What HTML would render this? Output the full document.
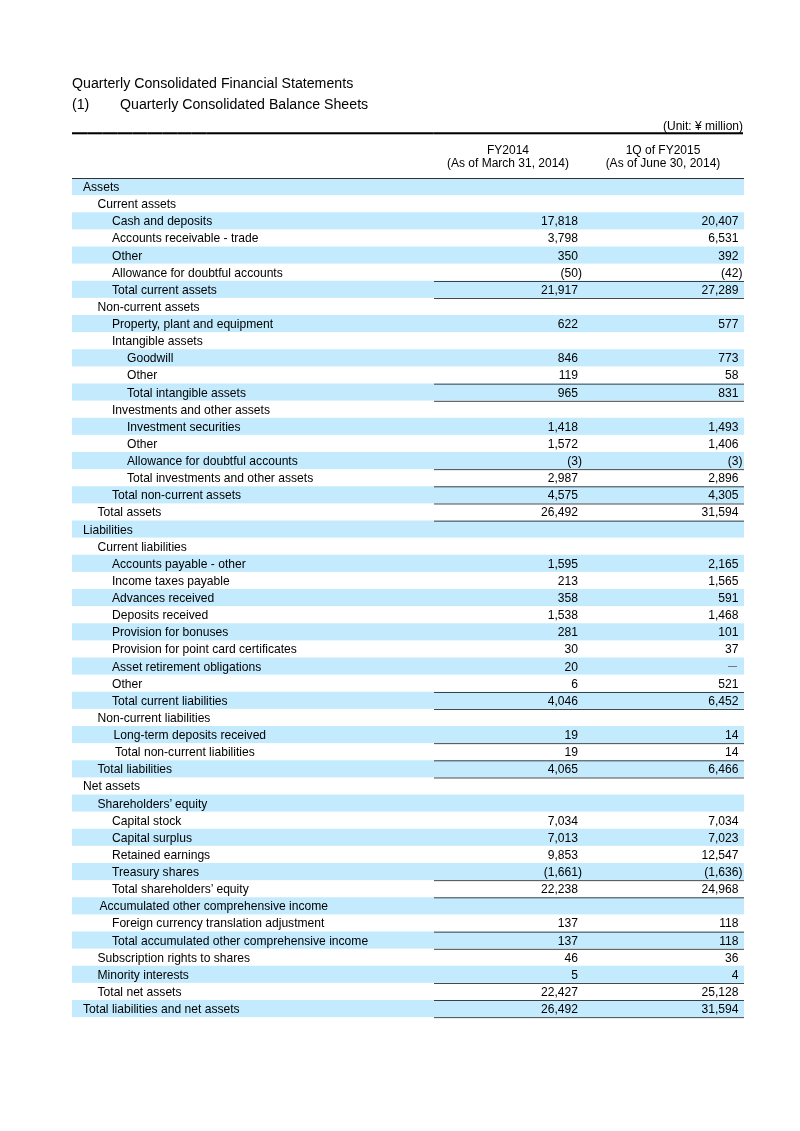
<!DOCTYPE html>
<html><head><meta charset="utf-8"><style>
html,body{margin:0;padding:0;background:#fff;}
body{width:800px;height:1131px;position:relative;overflow:hidden;will-change:transform;font-family:"Liberation Sans",sans-serif;color:#000;}
.t1{position:absolute;left:72px;top:74px;font-size:14.18px;line-height:18px;white-space:nowrap;}
.t2{position:absolute;left:72px;top:95px;font-size:14.18px;line-height:18px;white-space:nowrap;}
.t2 span{position:absolute;left:48px;top:0;}
.unit{position:absolute;right:57px;top:118px;font-size:12px;line-height:16px;white-space:nowrap;}
.thick{position:absolute;left:72px;width:671px;height:1px;background:#000;}
.tk{position:absolute;top:132px;width:1px;height:3px;background:#fff;opacity:.15;}
.hdr{position:absolute;top:144px;font-size:12px;line-height:13px;text-align:center;white-space:nowrap;}
.h1{left:433px;width:150px;}
.h2{left:588px;width:150px;}
.hline{position:absolute;left:72px;width:672px;top:178px;height:1px;background:#333;}
.r{position:absolute;left:72px;width:672px;height:17.125px;font-size:12.1px;line-height:17.125px;white-space:nowrap;}
.bg{position:absolute;left:72px;width:672px;background:#c3ebfd;}
.l{position:absolute;top:1px;}
.c1{position:absolute;right:162px;top:1px;text-align:right;}
.c2{position:absolute;right:1.5px;top:1px;text-align:right;}
.pad{display:inline-block;width:4px;}
.dash{display:inline-block;width:9px;height:1px;background:#777;vertical-align:middle;position:relative;top:-1px;margin-right:2px;}
.hl{position:absolute;left:434px;width:310px;height:1px;background:#000;}
</style></head><body>
<div class="t1">Quarterly Consolidated Financial Statements</div>
<div class="t2">(1)<span>Quarterly Consolidated Balance Sheets</span></div>
<div class="unit">(Unit: &yen; million)</div>
<div class="thick" style="top:132px;opacity:.75"></div><div class="thick" style="top:133px"></div><div class="thick" style="top:134px;opacity:.3"></div><div class="tk" style="left:87px"></div><div class="tk" style="left:102px"></div><div class="tk" style="left:117px"></div><div class="tk" style="left:132px"></div><div class="tk" style="left:147px"></div><div class="tk" style="left:162px"></div><div class="tk" style="left:177px"></div><div class="tk" style="left:191px"></div><div class="tk" style="left:206px"></div><div class="tk" style="left:433px"></div>
<div class="hdr h1">FY2014<br>(As of March 31, 2014)</div>
<div class="hdr h2">1Q of FY2015<br>(As of June 30, 2014)</div>
<div class="bg" style="top:178px;height:17px"></div><div class="bg" style="top:195px;height:1px;opacity:0.125"></div><div class="bg" style="top:213px;height:16px"></div><div class="bg" style="top:212px;height:1px;opacity:0.750"></div><div class="bg" style="top:229px;height:1px;opacity:0.375"></div><div class="bg" style="top:247px;height:16px"></div><div class="bg" style="top:246px;height:1px;opacity:0.500"></div><div class="bg" style="top:263px;height:1px;opacity:0.625"></div><div class="bg" style="top:281px;height:16px"></div><div class="bg" style="top:280px;height:1px;opacity:0.250"></div><div class="bg" style="top:297px;height:1px;opacity:0.875"></div><div class="bg" style="top:315px;height:17px"></div><div class="bg" style="top:332px;height:1px;opacity:0.125"></div><div class="bg" style="top:350px;height:16px"></div><div class="bg" style="top:349px;height:1px;opacity:0.750"></div><div class="bg" style="top:366px;height:1px;opacity:0.375"></div><div class="bg" style="top:384px;height:16px"></div><div class="bg" style="top:383px;height:1px;opacity:0.500"></div><div class="bg" style="top:400px;height:1px;opacity:0.625"></div><div class="bg" style="top:418px;height:16px"></div><div class="bg" style="top:417px;height:1px;opacity:0.250"></div><div class="bg" style="top:434px;height:1px;opacity:0.875"></div><div class="bg" style="top:452px;height:17px"></div><div class="bg" style="top:469px;height:1px;opacity:0.125"></div><div class="bg" style="top:487px;height:16px"></div><div class="bg" style="top:486px;height:1px;opacity:0.750"></div><div class="bg" style="top:503px;height:1px;opacity:0.375"></div><div class="bg" style="top:521px;height:16px"></div><div class="bg" style="top:520px;height:1px;opacity:0.500"></div><div class="bg" style="top:537px;height:1px;opacity:0.625"></div><div class="bg" style="top:555px;height:16px"></div><div class="bg" style="top:554px;height:1px;opacity:0.250"></div><div class="bg" style="top:571px;height:1px;opacity:0.875"></div><div class="bg" style="top:589px;height:17px"></div><div class="bg" style="top:606px;height:1px;opacity:0.125"></div><div class="bg" style="top:624px;height:16px"></div><div class="bg" style="top:623px;height:1px;opacity:0.750"></div><div class="bg" style="top:640px;height:1px;opacity:0.375"></div><div class="bg" style="top:658px;height:16px"></div><div class="bg" style="top:657px;height:1px;opacity:0.500"></div><div class="bg" style="top:674px;height:1px;opacity:0.625"></div><div class="bg" style="top:692px;height:16px"></div><div class="bg" style="top:691px;height:1px;opacity:0.250"></div><div class="bg" style="top:708px;height:1px;opacity:0.875"></div><div class="bg" style="top:726px;height:17px"></div><div class="bg" style="top:743px;height:1px;opacity:0.125"></div><div class="bg" style="top:761px;height:16px"></div><div class="bg" style="top:760px;height:1px;opacity:0.750"></div><div class="bg" style="top:777px;height:1px;opacity:0.375"></div><div class="bg" style="top:795px;height:16px"></div><div class="bg" style="top:794px;height:1px;opacity:0.500"></div><div class="bg" style="top:811px;height:1px;opacity:0.625"></div><div class="bg" style="top:829px;height:16px"></div><div class="bg" style="top:828px;height:1px;opacity:0.250"></div><div class="bg" style="top:845px;height:1px;opacity:0.875"></div><div class="bg" style="top:863px;height:17px"></div><div class="bg" style="top:880px;height:1px;opacity:0.125"></div><div class="bg" style="top:898px;height:16px"></div><div class="bg" style="top:897px;height:1px;opacity:0.750"></div><div class="bg" style="top:914px;height:1px;opacity:0.375"></div><div class="bg" style="top:932px;height:16px"></div><div class="bg" style="top:931px;height:1px;opacity:0.500"></div><div class="bg" style="top:948px;height:1px;opacity:0.625"></div><div class="bg" style="top:966px;height:16px"></div><div class="bg" style="top:965px;height:1px;opacity:0.250"></div><div class="bg" style="top:982px;height:1px;opacity:0.875"></div><div class="bg" style="top:1000px;height:17px"></div><div class="bg" style="top:1017px;height:1px;opacity:0.125"></div><div class="r" style="top:178.000px"><div class="l" style="left:11.0px">Assets</div><div class="c1"></div><div class="c2"></div></div><div class="r" style="top:195.125px"><div class="l" style="left:25.5px">Current assets</div><div class="c1"></div><div class="c2"></div></div><div class="r" style="top:212.250px"><div class="l" style="left:40.0px">Cash and deposits</div><div class="c1">17,818<span class="pad"></span></div><div class="c2">20,407<span class="pad"></span></div></div><div class="r" style="top:229.375px"><div class="l" style="left:40.0px">Accounts receivable - trade</div><div class="c1">3,798<span class="pad"></span></div><div class="c2">6,531<span class="pad"></span></div></div><div class="r" style="top:246.500px"><div class="l" style="left:40.0px">Other</div><div class="c1">350<span class="pad"></span></div><div class="c2">392<span class="pad"></span></div></div><div class="r" style="top:263.625px"><div class="l" style="left:40.0px">Allowance for doubtful accounts</div><div class="c1">(50)</div><div class="c2">(42)</div></div><div class="r" style="top:280.750px"><div class="l" style="left:40.0px">Total current assets</div><div class="c1">21,917<span class="pad"></span></div><div class="c2">27,289<span class="pad"></span></div></div><div class="r" style="top:297.875px"><div class="l" style="left:25.5px">Non-current assets</div><div class="c1"></div><div class="c2"></div></div><div class="r" style="top:315.000px"><div class="l" style="left:40.0px">Property, plant and equipment</div><div class="c1">622<span class="pad"></span></div><div class="c2">577<span class="pad"></span></div></div><div class="r" style="top:332.125px"><div class="l" style="left:40.0px">Intangible assets</div><div class="c1"></div><div class="c2"></div></div><div class="r" style="top:349.250px"><div class="l" style="left:55.0px">Goodwill</div><div class="c1">846<span class="pad"></span></div><div class="c2">773<span class="pad"></span></div></div><div class="r" style="top:366.375px"><div class="l" style="left:55.0px">Other</div><div class="c1">119<span class="pad"></span></div><div class="c2">58<span class="pad"></span></div></div><div class="r" style="top:383.500px"><div class="l" style="left:55.0px">Total intangible assets</div><div class="c1">965<span class="pad"></span></div><div class="c2">831<span class="pad"></span></div></div><div class="r" style="top:400.625px"><div class="l" style="left:40.0px">Investments and other assets</div><div class="c1"></div><div class="c2"></div></div><div class="r" style="top:417.750px"><div class="l" style="left:55.0px">Investment securities</div><div class="c1">1,418<span class="pad"></span></div><div class="c2">1,493<span class="pad"></span></div></div><div class="r" style="top:434.875px"><div class="l" style="left:55.0px">Other</div><div class="c1">1,572<span class="pad"></span></div><div class="c2">1,406<span class="pad"></span></div></div><div class="r" style="top:452.000px"><div class="l" style="left:55.0px">Allowance for doubtful accounts</div><div class="c1">(3)</div><div class="c2">(3)</div></div><div class="r" style="top:469.125px"><div class="l" style="left:55.0px">Total investments and other assets</div><div class="c1">2,987<span class="pad"></span></div><div class="c2">2,896<span class="pad"></span></div></div><div class="r" style="top:486.250px"><div class="l" style="left:40.0px">Total non-current assets</div><div class="c1">4,575<span class="pad"></span></div><div class="c2">4,305<span class="pad"></span></div></div><div class="r" style="top:503.375px"><div class="l" style="left:25.5px">Total assets</div><div class="c1">26,492<span class="pad"></span></div><div class="c2">31,594<span class="pad"></span></div></div><div class="r" style="top:520.500px"><div class="l" style="left:11.0px">Liabilities</div><div class="c1"></div><div class="c2"></div></div><div class="r" style="top:537.625px"><div class="l" style="left:25.5px">Current liabilities</div><div class="c1"></div><div class="c2"></div></div><div class="r" style="top:554.750px"><div class="l" style="left:40.0px">Accounts payable - other</div><div class="c1">1,595<span class="pad"></span></div><div class="c2">2,165<span class="pad"></span></div></div><div class="r" style="top:571.875px"><div class="l" style="left:40.0px">Income taxes payable</div><div class="c1">213<span class="pad"></span></div><div class="c2">1,565<span class="pad"></span></div></div><div class="r" style="top:589.000px"><div class="l" style="left:40.0px">Advances received</div><div class="c1">358<span class="pad"></span></div><div class="c2">591<span class="pad"></span></div></div><div class="r" style="top:606.125px"><div class="l" style="left:40.0px">Deposits received</div><div class="c1">1,538<span class="pad"></span></div><div class="c2">1,468<span class="pad"></span></div></div><div class="r" style="top:623.250px"><div class="l" style="left:40.0px">Provision for bonuses</div><div class="c1">281<span class="pad"></span></div><div class="c2">101<span class="pad"></span></div></div><div class="r" style="top:640.375px"><div class="l" style="left:40.0px">Provision for point card certificates</div><div class="c1">30<span class="pad"></span></div><div class="c2">37<span class="pad"></span></div></div><div class="r" style="top:657.500px"><div class="l" style="left:40.0px">Asset retirement obligations</div><div class="c1">20<span class="pad"></span></div><div class="c2"><span class="dash"></span><span class="pad"></span></div></div><div class="r" style="top:674.625px"><div class="l" style="left:40.0px">Other</div><div class="c1">6<span class="pad"></span></div><div class="c2">521<span class="pad"></span></div></div><div class="r" style="top:691.750px"><div class="l" style="left:40.0px">Total current liabilities</div><div class="c1">4,046<span class="pad"></span></div><div class="c2">6,452<span class="pad"></span></div></div><div class="r" style="top:708.875px"><div class="l" style="left:25.5px">Non-current liabilities</div><div class="c1"></div><div class="c2"></div></div><div class="r" style="top:726.000px"><div class="l" style="left:41.5px">Long-term deposits received</div><div class="c1">19<span class="pad"></span></div><div class="c2">14<span class="pad"></span></div></div><div class="r" style="top:743.125px"><div class="l" style="left:43.0px">Total non-current liabilities</div><div class="c1">19<span class="pad"></span></div><div class="c2">14<span class="pad"></span></div></div><div class="r" style="top:760.250px"><div class="l" style="left:25.5px">Total liabilities</div><div class="c1">4,065<span class="pad"></span></div><div class="c2">6,466<span class="pad"></span></div></div><div class="r" style="top:777.375px"><div class="l" style="left:11.0px">Net assets</div><div class="c1"></div><div class="c2"></div></div><div class="r" style="top:794.500px"><div class="l" style="left:25.5px">Shareholders’ equity</div><div class="c1"></div><div class="c2"></div></div><div class="r" style="top:811.625px"><div class="l" style="left:40.0px">Capital stock</div><div class="c1">7,034<span class="pad"></span></div><div class="c2">7,034<span class="pad"></span></div></div><div class="r" style="top:828.750px"><div class="l" style="left:40.0px">Capital surplus</div><div class="c1">7,013<span class="pad"></span></div><div class="c2">7,023<span class="pad"></span></div></div><div class="r" style="top:845.875px"><div class="l" style="left:40.0px">Retained earnings</div><div class="c1">9,853<span class="pad"></span></div><div class="c2">12,547<span class="pad"></span></div></div><div class="r" style="top:863.000px"><div class="l" style="left:40.0px">Treasury shares</div><div class="c1">(1,661)</div><div class="c2">(1,636)</div></div><div class="r" style="top:880.125px"><div class="l" style="left:40.0px">Total shareholders’ equity</div><div class="c1">22,238<span class="pad"></span></div><div class="c2">24,968<span class="pad"></span></div></div><div class="r" style="top:897.250px"><div class="l" style="left:27.5px">Accumulated other comprehensive income</div><div class="c1"></div><div class="c2"></div></div><div class="r" style="top:914.375px"><div class="l" style="left:40.0px">Foreign currency translation adjustment</div><div class="c1">137<span class="pad"></span></div><div class="c2">118<span class="pad"></span></div></div><div class="r" style="top:931.500px"><div class="l" style="left:40.0px">Total accumulated other comprehensive income</div><div class="c1">137<span class="pad"></span></div><div class="c2">118<span class="pad"></span></div></div><div class="r" style="top:948.625px"><div class="l" style="left:25.5px">Subscription rights to shares</div><div class="c1">46<span class="pad"></span></div><div class="c2">36<span class="pad"></span></div></div><div class="r" style="top:965.750px"><div class="l" style="left:25.5px">Minority interests</div><div class="c1">5<span class="pad"></span></div><div class="c2">4<span class="pad"></span></div></div><div class="r" style="top:982.875px"><div class="l" style="left:25.5px">Total net assets</div><div class="c1">22,427<span class="pad"></span></div><div class="c2">25,128<span class="pad"></span></div></div><div class="r" style="top:1000.000px"><div class="l" style="left:11.0px">Total liabilities and net assets</div><div class="c1">26,492<span class="pad"></span></div><div class="c2">31,594<span class="pad"></span></div></div><div class="hl" style="top:281px;opacity:0.720"></div><div class="hl" style="top:298px;opacity:0.720"></div><div class="hl" style="top:383px;opacity:0.250"></div><div class="hl" style="top:384px;opacity:0.470"></div><div class="hl" style="top:400px;opacity:0.125"></div><div class="hl" style="top:401px;opacity:0.595"></div><div class="hl" style="top:469px;opacity:0.625"></div><div class="hl" style="top:470px;opacity:0.095"></div><div class="hl" style="top:486px;opacity:0.500"></div><div class="hl" style="top:487px;opacity:0.220"></div><div class="hl" style="top:503px;opacity:0.375"></div><div class="hl" style="top:504px;opacity:0.345"></div><div class="hl" style="top:520px;opacity:0.250"></div><div class="hl" style="top:521px;opacity:0.470"></div><div class="hl" style="top:692px;opacity:0.720"></div><div class="hl" style="top:709px;opacity:0.720"></div><div class="hl" style="top:743px;opacity:0.625"></div><div class="hl" style="top:744px;opacity:0.095"></div><div class="hl" style="top:760px;opacity:0.500"></div><div class="hl" style="top:761px;opacity:0.220"></div><div class="hl" style="top:777px;opacity:0.375"></div><div class="hl" style="top:778px;opacity:0.345"></div><div class="hl" style="top:880px;opacity:0.625"></div><div class="hl" style="top:881px;opacity:0.095"></div><div class="hl" style="top:897px;opacity:0.500"></div><div class="hl" style="top:898px;opacity:0.220"></div><div class="hl" style="top:931px;opacity:0.250"></div><div class="hl" style="top:932px;opacity:0.470"></div><div class="hl" style="top:948px;opacity:0.125"></div><div class="hl" style="top:949px;opacity:0.595"></div><div class="hl" style="top:983px;opacity:0.720"></div><div class="hl" style="top:1000px;opacity:0.720"></div><div class="hl" style="top:1017px;opacity:0.625"></div><div class="hl" style="top:1018px;opacity:0.095"></div>
<div class="hline"></div>
</body></html>
